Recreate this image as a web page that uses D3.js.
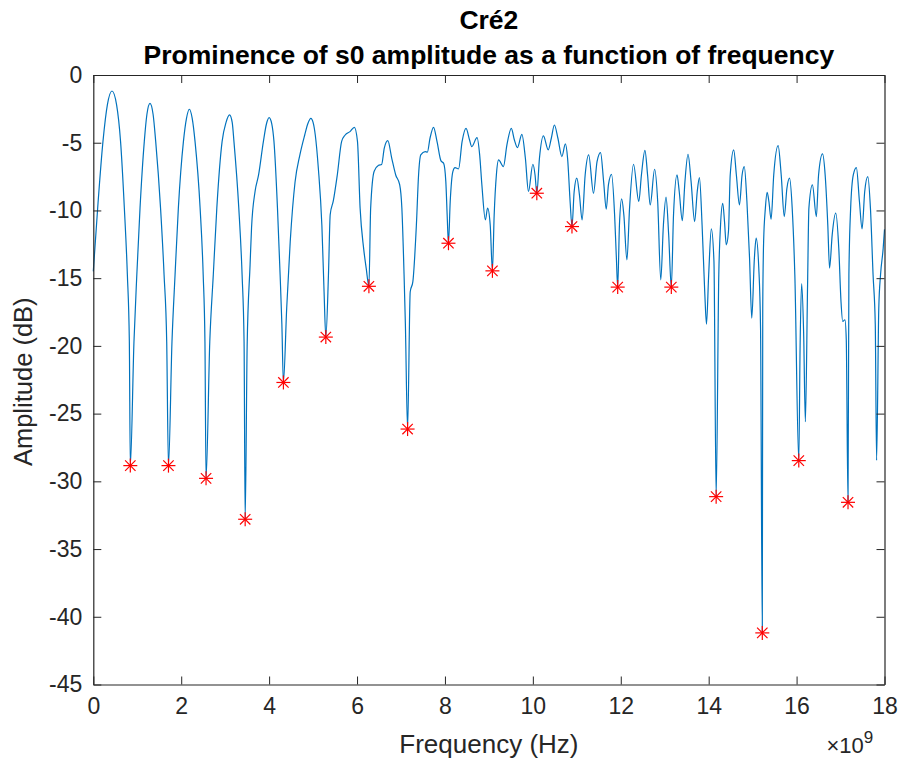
<!DOCTYPE html>
<html><head><meta charset="utf-8">
<script src="https://cdn.jsdelivr.net/npm/d3@7"></script>
<style>
html,body{margin:0;padding:0;background:#fff;}
svg{display:block;}
text{font-family:"Liberation Sans",Arial,Helvetica,sans-serif;}
</style></head>
<body>
<svg id="chart" width="900" height="758"></svg>
<script>
const titleLines = ["Cré2", "Prominence of s0 amplitude as a function of frequency"];
const xLabel = "Frequency (Hz)";
const yLabel = "Amplitude (dB)";
const xTicks = [0,2,4,6,8,10,12,14,16,18];
const yTicks = [0,-5,-10,-15,-20,-25,-30,-35,-40,-45];

// Curve: frequency (x10^9 Hz) and amplitude (dB)
const freqGHz = [0,0.10,0.22,0.32,0.425,0.53,0.62,0.706,0.775,0.82,0.842,0.925,0.99,1.063,1.16,1.22,1.29,1.36,1.42,1.53,1.61,1.67,1.71,1.79,1.86,1.935,2.05,2.12,2.185,2.25,2.315,2.43,2.50,2.54,2.565,2.65,2.73,2.81,2.93,3.02,3.10,3.16,3.20,3.31,3.385,3.43,3.455,3.50,3.567,3.60,3.68,3.76,3.87,3.94,4.0,4.06,4.11,4.19,4.25,4.29,4.325,4.40,4.48,4.59,4.70,4.81,4.88,4.95,5.0,5.05,5.12,5.20,5.25,5.29,5.35,5.39,5.46,5.55,5.65,5.73,5.84,5.94,6.01,6.07,6.15,6.21,6.27,6.31,6.39,6.49,6.56,6.62,6.70,6.79,6.88,6.97,7.02,7.07,7.10,7.15,7.21,7.27,7.35,7.40,7.45,7.55,7.60,7.66,7.74,7.82,7.91,7.97,8.02,8.05,8.08,8.12,8.18,8.23,8.31,8.39,8.48,8.56,8.61,8.73,8.79,8.84,8.92,8.97,9.03,9.08,9.12,9.17,9.22,9.33,9.41,9.51,9.58,9.65,9.75,9.83,9.90,10.0,10.05,10.09,10.15,10.24,10.35,10.42,10.49,10.57,10.66,10.74,10.79,10.85,10.89,10.94,11.0,11.06,11.12,11.19,11.27,11.38,11.46,11.54,11.61,11.67,11.72,11.79,11.86,11.90,11.93,11.97,12.02,12.07,12.14,12.20,12.29,12.41,12.47,12.55,12.61,12.67,12.77,12.84,12.91,12.97,13.03,13.09,13.15,13.20,13.28,13.33,13.40,13.46,13.53,13.60,13.68,13.74,13.79,13.85,13.91,13.95,14.0,14.06,14.12,14.17,14.23,14.27,14.32,14.36,14.40,14.45,14.49,14.57,14.63,14.70,14.76,14.81,14.87,14.93,14.98,15.04,15.08,15.14,15.18,15.22,15.23,15.25,15.29,15.33,15.37,15.42,15.48,15.58,15.65,15.72,15.78,15.84,15.90,15.96,16.05,16.08,16.115,16.16,16.20,16.25,16.28,16.36,16.45,16.50,16.59,16.65,16.71,16.75,16.81,16.89,16.96,17.01,17.05,17.10,17.13,17.17,17.19,17.23,17.29,17.36,17.43,17.49,17.55,17.62,17.68,17.74,17.79,17.82,17.87,17.91,17.97,18.0];
const ampDB = [-14.5,-9.8,-4.9,-2.2,-1.18,-2.2,-4.9,-9.8,-14.75,-19.7,-28.84,-19.7,-14.75,-9.83,-4.92,-2.9,-2.09,-2.9,-4.92,-9.83,-14.75,-19.7,-28.84,-19.7,-14.75,-9.83,-4.92,-3.2,-2.53,-3.2,-4.92,-9.83,-14.75,-19.7,-29.78,-19.7,-14.75,-9.83,-4.92,-3.5,-2.95,-3.5,-4.92,-9.83,-14.75,-19.7,-32.8,-20,-14,-11.3,-8.6,-7.38,-4.9,-3.6,-3.15,-3.6,-4.9,-9.83,-14.75,-18.4,-22.7,-17.2,-12.3,-7.9,-5.9,-4.43,-3.6,-3.2,-3.5,-4.43,-6.9,-11.1,-16.0,-19.35,-14.75,-10.3,-9.3,-7.4,-4.9,-4.43,-4.18,-3.86,-4.9,-9.83,-12.8,-14.3,-15.6,-9.83,-7.1,-6.67,-6.6,-5.4,-4.85,-6.15,-7.38,-8.1,-9.83,-14.75,-18.4,-26.14,-16.0,-15.25,-11.1,-7.38,-5.9,-5.66,-5.7,-4.67,-3.86,-4.92,-6.34,-6.52,-7.87,-10.3,-12.42,-9.34,-7.13,-6.84,-6.93,-4.92,-3.94,-4.8,-5.29,-4.62,-5.9,-8.1,-10.7,-9.83,-11.07,-14.46,-10.33,-7.38,-6.27,-6.76,-5.16,-3.94,-4.8,-5.36,-4.38,-6.15,-8.6,-6.59,-7.38,-8.73,-6.15,-4.5,-5.53,-4.67,-3.69,-4.67,-6.02,-5.09,-6.15,-9.47,-11.19,-8.6,-7.62,-8.85,-10.7,-7.38,-5.9,-8.73,-6.4,-5.73,-7.87,-9.9,-8.1,-7.33,-10.33,-13.5,-15.66,-11.07,-9.15,-10.33,-13.65,-9.83,-6.59,-9.34,-7.38,-5.56,-7.38,-9.59,-6.96,-9.34,-15.12,-11.07,-9.02,-11.8,-15.66,-10.33,-7.38,-8.6,-10.75,-7.87,-5.85,-7.87,-10.82,-8.6,-7.57,-11.07,-15.98,-18.4,-14.75,-11.36,-13.77,-31.13,-14.75,-11.07,-9.47,-10.82,-12.54,-11.56,-7.38,-5.53,-7.38,-9.59,-7.38,-6.76,-9.34,-13.53,-17.95,-13.53,-12.05,-14.26,-18.7,-41.19,-17.2,-12.3,-9.83,-8.66,-9.34,-10.65,-7.38,-5.21,-7.38,-10.45,-8.36,-7.62,-9.83,-14.75,-28.47,-20,-15.4,-19,-25.6,-15.5,-9.83,-8.11,-10.45,-7.38,-5.83,-7.38,-11.07,-14.26,-11.8,-10.2,-12.8,-16.7,-18.2,-18.07,-19.5,-31.55,-14.75,-9.83,-7.38,-6.84,-9.34,-11.36,-8.6,-7.5,-9.83,-14.75,-18.4,-28.45,-17.2,-14.75,-12.8,-11.4];

// Prominent minima (red stars)
const peakFreq = [0.842,1.71,2.565,3.455,4.325,5.29,6.27,7.15,8.08,9.08,10.09,10.89,11.93,13.15,14.17,15.22,16.05,17.17];
const peakAmp = [-28.84,-28.84,-29.78,-32.8,-22.7,-19.35,-15.6,-26.14,-12.42,-14.46,-8.73,-11.19,-15.66,-15.66,-31.13,-41.19,-28.47,-31.55];

const W = 900, H = 758;
const margin = {left: 93.3, right: 15.5, top: 75, bottom: 73.5};
const svg = d3.select("#chart");
const x = d3.scaleLinear().domain([0, 18]).range([margin.left, W - margin.right]);
const y = d3.scaleLinear().domain([-45, 0]).range([H - margin.bottom, margin.top]);
const axisColor = "#262626";
const tickLen = 8;

// curve
const pts = freqGHz.map((f, i) => [f, ampDB[i]]);
const line = d3.line().x(d => x(d[0])).y(d => y(d[1])).curve(d3.curveMonotoneX);
svg.append("path").datum(pts).attr("d", line)
  .attr("fill", "none").attr("stroke", "#0072BD").attr("stroke-width", 1.2).attr("stroke-linejoin", "round");

// markers
const mk = svg.append("g").attr("stroke", "#FF0000").attr("stroke-width", 1.2);
const r = 7, rd = 5.2;
peakFreq.forEach((f, i) => {
  const cx = x(f), cy = y(peakAmp[i]);
  mk.append("line").attr("x1", cx - r).attr("x2", cx + r).attr("y1", cy).attr("y2", cy);
  mk.append("line").attr("x1", cx).attr("x2", cx).attr("y1", cy - r).attr("y2", cy + r);
  mk.append("line").attr("x1", cx - rd).attr("x2", cx + rd).attr("y1", cy - rd).attr("y2", cy + rd);
  mk.append("line").attr("x1", cx - rd).attr("x2", cx + rd).attr("y1", cy + rd).attr("y2", cy - rd);
});

// axes
const x0 = x.range()[0], x1 = x.range()[1], y0 = y.range()[0], y1 = y.range()[1];
const xAxisB = d3.axisBottom(x).tickValues(xTicks).tickSizeInner(-tickLen).tickSizeOuter(0).tickPadding(13).tickFormat(d3.format("d"));
const xAxisT = d3.axisTop(x).tickValues(xTicks).tickSizeInner(-tickLen).tickSizeOuter(0).tickFormat("");
const yAxisL = d3.axisLeft(y).tickValues(yTicks).tickSizeInner(-tickLen).tickSizeOuter(0).tickPadding(11).tickFormat(d => String(d).replace("−","-"));
const yAxisR = d3.axisRight(y).tickValues(yTicks).tickSizeInner(-tickLen).tickSizeOuter(0).tickFormat("");

function style(g){
  g.select(".domain").attr("stroke", axisColor).attr("stroke-width", 1.2);
  g.selectAll(".tick line").attr("stroke", axisColor).attr("stroke-width", 1);
  g.selectAll(".tick text").attr("fill", axisColor).style("font-size", "23px")
    .style("font-family", '"Liberation Sans",Arial,sans-serif');
}
svg.append("g").attr("transform", `translate(0,${y0})`).call(xAxisB).call(style);
svg.append("g").attr("transform", `translate(0,${y1})`).call(xAxisT).call(style);
svg.append("g").attr("transform", `translate(${x0},0)`).call(yAxisL).call(style);
svg.append("g").attr("transform", `translate(${x1},0)`).call(yAxisR).call(style);

// labels
svg.append("text").attr("x", (x0 + x1) / 2).attr("y", 753).attr("text-anchor", "middle")
  .attr("fill", axisColor).style("font-size", "26px").text(xLabel);
svg.append("text").attr("transform", `translate(32,${(y0 + y1) / 2 + 2}) rotate(-90)`).attr("text-anchor", "middle")
  .attr("fill", axisColor).style("font-size", "25.5px").text(yLabel);

// exponent
const ex = svg.append("text").attr("x", x1 - 58).attr("y", 753).attr("fill", axisColor).style("font-size", "22px");
ex.append("tspan").text("×10");
ex.append("tspan").attr("dy", -10).style("font-size", "17px").text("9");

// title
svg.append("text").attr("x", (x0 + x1) / 2).attr("y", 29).attr("text-anchor", "middle")
  .attr("fill", "#000").style("font-size", "26.5px").style("font-weight", "bold").text(titleLines[0]);
svg.append("text").attr("x", (x0 + x1) / 2).attr("y", 64).attr("text-anchor", "middle")
  .attr("fill", "#000").style("font-size", "26.5px").style("font-weight", "bold").text(titleLines[1]);
</script>
</body></html>
